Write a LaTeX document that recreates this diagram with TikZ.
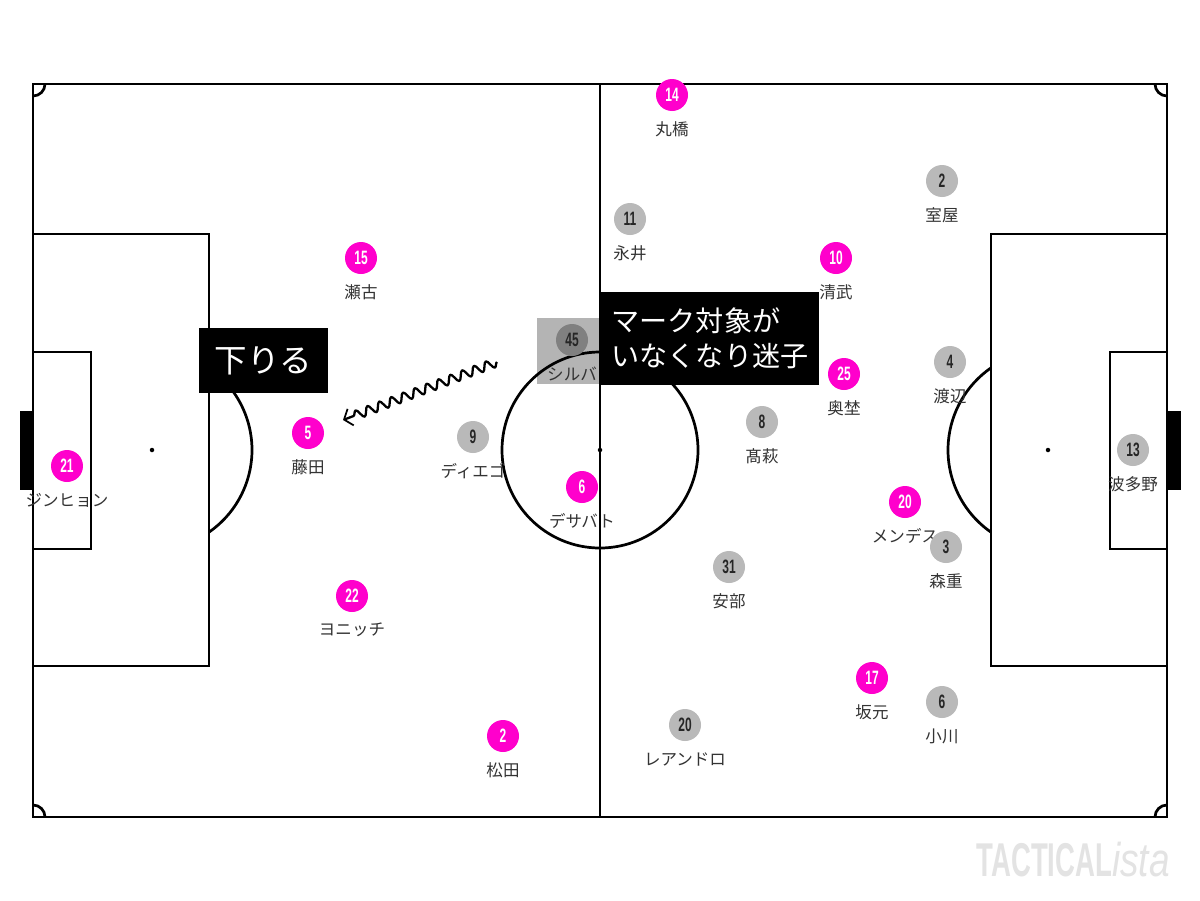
\documentclass[tikz,border=0pt]{standalone}
\usepackage{fontspec}
\usepackage{graphicx}
\setmainfont{Noto Sans CJK JP}
\newfontfamily\numfont{Liberation Sans}
\newfontfamily\logofont{Liberation Sans}
\usetikzlibrary{decorations.pathmorphing,arrows.meta}
\definecolor{pkc}{HTML}{FF00CC}
\definecolor{grc}{HTML}{B9B9B9}
\definecolor{dgc}{HTML}{808080}
\definecolor{sqc}{HTML}{B4B4B4}
\definecolor{lblc}{HTML}{333333}
\definecolor{logoc}{HTML}{E3E3E3}
\newcommand\nm[1]{\scalebox{0.65}[1.05]{#1}}
\tikzset{
  pitch/.style={line width=1.55pt, black},
  spot/.style={circle, fill=black, inner sep=0, minimum size=0.09cm},
  pkp/.style={circle, fill=pkc, minimum size=0.64cm, inner sep=0, text=white, font=\numfont\bfseries\fontsize{10.5}{10}\selectfont},
  grp/.style={circle, fill=grc, minimum size=0.64cm, inner sep=0, text=black!85, font=\numfont\bfseries\fontsize{10.5}{10}\selectfont},
  dgp/.style={grp, fill=dgc},
  plabel/.style={inner sep=0, text=lblc, font=\fontsize{9.4}{10}\selectfont},
  blackbox/.style={fill=black, text=white, inner sep=0},
  goalbar/.style={fill=black},
}
\begin{document}
\begin{tikzpicture}[x=0.02cm,y=-0.02cm]
\useasboundingbox (0,0) rectangle (1200,900);
\fill[white] (0,0) rectangle (1200,900);
% Silva highlight square
\node[fill=sqc, minimum width=1.26cm, minimum height=1.32cm, inner sep=0] (silvasq) at (568.5,351) {};
% goals
\fill[goalbar] (20,411) rectangle (33,490);
\fill[goalbar] (1167,411) rectangle (1181,490);
% pitch
\draw[pitch] (33,84) rectangle (1167,817);
\draw[pitch] (600,84) -- (600,817);
\draw[pitch] (600,450) circle[radius=98];
\draw[pitch] (33,234) rectangle (209,666);
\draw[pitch] (33,352) rectangle (91,549);
\draw[pitch] (1167,234) rectangle (991,666);
\draw[pitch] (1167,352) rectangle (1110,549);
\draw[pitch] (152,450) ++(-55:100) arc[start angle=-55,end angle=55,radius=100];
\draw[pitch] (1048,450) ++(125:100) arc[start angle=125,end angle=235,radius=100];
\node[spot] (cs) at (600,450) {};
\node[spot] (ls) at (152,450) {};
\node[spot] (rs) at (1048,450) {};
\draw[pitch] (45,84) arc[start angle=0,end angle=90,radius=12];
\draw[pitch] (1155,84) arc[start angle=180,end angle=90,radius=12];
\draw[pitch] (45,817) arc[start angle=0,end angle=-90,radius=12];
\draw[pitch] (1155,817) arc[start angle=180,end angle=270,radius=12];
% pink players
\foreach \id/\x/\y/\num/\name in {
  a1/672/95/14/丸橋, a2/361/258/15/瀬古, a3/836/258/10/清武, a4/844/374/25/奥埜,
  a5/308/433/5/藤田, a6/67/466/21/ジンヒョン, a7/582/487/6/デサバト,
  a8/905/502/20/メンデス, a9/352/596/22/ヨニッチ, a10/872/678/17/坂元, a11/503/736/2/松田}{
  \node[pkp] (\id) at (\x,\y) {\nm{\num}};
  \node[plabel] (\id l) at (\x,\y+34) {\name};
}
% gray players
\foreach \id/\x/\y/\num/\name in {
  b1/942/181/2/室屋, b2/630/219/11/永井, b3/950/362/4/渡辺, b4/762/422/8/髙萩,
  b5/473/437/9/ディエゴ, b6/1133/450/13/波多野, b7/946/547/3/森重, b8/729/567/31/安部,
  b9/942/702/6/小川, b10/685/725/20/レアンドロ}{
  \node[grp] (\id) at (\x,\y) {\nm{\num}};
  \node[plabel] (\id l) at (\x,\y+34) {\name};
}
\node[dgp] (b11) at (572,340) {\nm{45}};
\node[plabel] (b11l) at (572,374) {シルバ};
% text boxes
\node[blackbox, minimum width=2.58cm, minimum height=1.3cm, font=\fontsize{18.5}{20}\selectfont] (box1) at (263.5,360.5) {下りる};
\node[blackbox, minimum width=4.36cm, minimum height=1.86cm, align=left, font=\fontsize{16}{20}\selectfont] (box2) at (710,338.5) {マーク対象が\\いなくなり迷子};
% wavy arrow
\coordinate (ws) at (497,362);
\coordinate (we) at (343,420);
\draw[line width=1.3pt, line join=round, -{Straight Barb[length=4pt,width=10pt,line width=1pt]}, decorate,
  decoration={snake, amplitude=2.6pt, segment length=7.2pt, post length=5pt}] (ws) -- (we);
% logo
\node[anchor=east, inner sep=0, text=logoc] (logo) at (1170,860)
  {\logofont\fontsize{27}{27}\selectfont\scalebox{0.58}[1]{\bfseries TACTICAL}\scalebox{0.78}[1]{\itshape ista}};
\end{tikzpicture}
\end{document}
